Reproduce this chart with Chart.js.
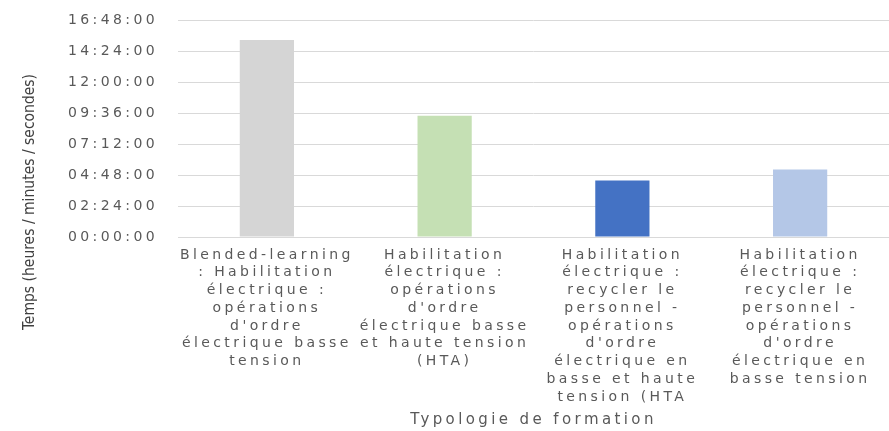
<!DOCTYPE html>
<html><head><meta charset="utf-8">
<script src="https://cdn.jsdelivr.net/npm/chart.js@4"></script>
<style>html,body{margin:0;padding:0;background:#fff;} canvas{display:block;}</style>
</head><body>
<canvas id="c" width="889" height="431"></canvas>
<script>
const categories = [
  ["Blended-learning", ": Habilitation", "électrique :", "opérations", "d'ordre", "électrique basse", "tension"],
  ["Habilitation", "électrique :", "opérations", "d'ordre", "électrique basse", "et haute tension", "(HTA)"],
  ["Habilitation", "électrique :", "recycler le", "personnel -", "opérations", "d'ordre", "électrique en", "basse et haute", "tension (HTA"],
  ["Habilitation", "électrique :", "recycler le", "personnel -", "opérations", "d'ordre", "électrique en", "basse tension"]
];
const durations = ["15:15:00", "09:23:00", "04:23:00", "05:14:00"];
const barColors = ["#d5d5d5", "#c5e0b4", "#4472c4", "#b4c7e7"];
const yTickLabels = ["00:00:00", "02:24:00", "04:48:00", "07:12:00", "09:36:00", "12:00:00", "14:24:00", "16:48:00"];
const yAxisTitle = "Temps (heures / minutes / secondes)";
const xAxisTitle = "Typologie de formation";

function toSec(s) { const p = s.split(":").map(Number); return p[0] * 3600 + p[1] * 60 + p[2]; }
function fmt(v) {
  const h = Math.floor(v / 3600), m = Math.floor((v % 3600) / 60), s = Math.round(v % 60);
  return [h, m, s].map(n => String(n).padStart(2, "0")).join(":");
}
const values = durations.map(toSec);
const yTicks = yTickLabels.map(toSec);

const SPACING = "3.4px";
const spacingPlugin = {
  id: "spacing",
  beforeLayout(chart) { chart.ctx.letterSpacing = SPACING; },
  beforeDraw(chart) { chart.ctx.letterSpacing = SPACING; },
  afterDraw(chart) {
    const ctx = chart.ctx;
    ctx.save();
    ctx.letterSpacing = "0px";
    ctx.font = '15.5px "Liberation Sans Narrow", "DejaVu Sans Condensed", "Roboto Condensed", sans-serif';
    ctx.fillStyle = "#404040";
    ctx.translate(30, 202);
    ctx.rotate(-Math.PI / 2);
    ctx.textAlign = "center";
    ctx.textBaseline = "middle";
    ctx.fillText(yAxisTitle, 0, 0);
    ctx.restore();
  }
};

const textFont = { family: '"DejaVu Sans", Verdana, sans-serif', size: 14, lineHeight: 1.27 };

new Chart(document.getElementById("c"), {
  type: "bar",
  data: {
    labels: categories,
    datasets: [{
      data: values,
      backgroundColor: barColors,
      borderWidth: 0,
      categoryPercentage: 1,
      barPercentage: 0.305
    }]
  },
  options: {
    responsive: false,
    animation: false,
    devicePixelRatio: 1,
    layout: { padding: { top: 20, right: 0, left: 0, bottom: 0 } },
    plugins: { legend: { display: false }, tooltip: { enabled: false }, title: { display: false } },
    scales: {
      x: {
        grid: { display: false, drawTicks: false },
        border: { display: true, color: "#d9d9d9" },
        ticks: { color: "#595959", font: textFont, padding: 9, maxRotation: 0, minRotation: 0, autoSkip: false },
        title: { display: true, text: xAxisTitle, color: "#595959",
                 font: { family: '"DejaVu Sans", Verdana, sans-serif', size: 15 }, padding: { top: 4, bottom: 2 } },
        afterFit(s) { s.height = 431 - 237; }
      },
      y: {
        min: 0,
        max: yTicks[yTicks.length - 1],
        grid: { color: "#d9d9d9", drawTicks: true, tickLength: 20, tickColor: "rgba(0,0,0,0)" },
        border: { display: false },
        ticks: { color: "#595959", font: { family: '"DejaVu Sans", Verdana, sans-serif', size: 14 }, padding: 0,
                 callback: v => fmt(v) },
        afterBuildTicks(s) { s.ticks = yTicks.map(v => ({ value: v })); },
        afterFit(s) { s.width = 178; }
      }
    }
  },
  plugins: [spacingPlugin]
});
</script>
</body></html>
